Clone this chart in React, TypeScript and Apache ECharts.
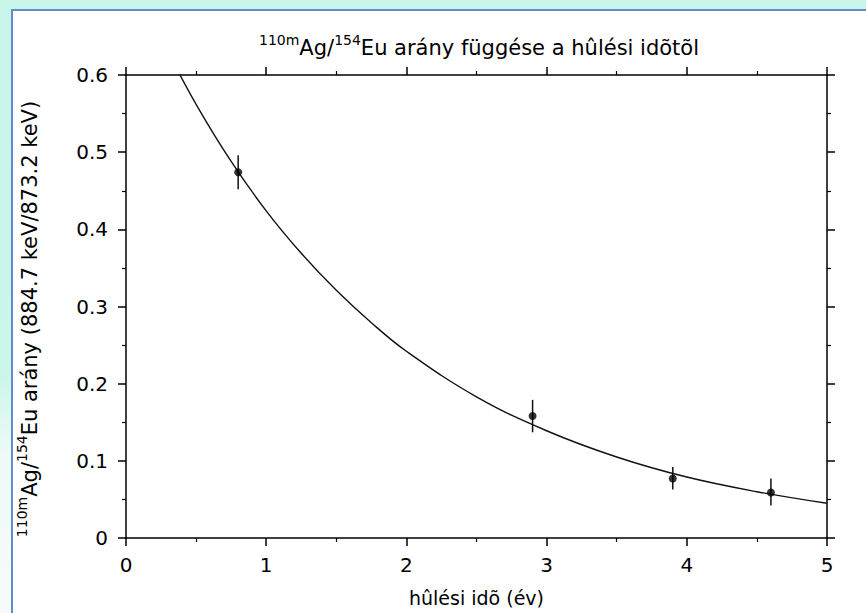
import React, { useEffect, useRef } from "react";
import * as echarts from "echarts";

// Measured points (cooling time in years, ratio) with error bar ends
const pointX = [0.8, 2.9, 3.9, 4.6];
const pointY = [0.474, 0.158, 0.077, 0.059];
const errLow = [0.452, 0.137, 0.063, 0.042];
const errHigh = [0.496, 0.179, 0.092, 0.077];

// Fitted curve
const curveX = [0.3, 0.5, 0.75, 1, 1.25, 1.5, 1.75, 2, 2.5, 3, 3.5, 4, 4.5, 5];
const curveY = [0.63, 0.562, 0.488, 0.424, 0.369, 0.321, 0.279, 0.242, 0.183, 0.139, 0.105, 0.079, 0.06, 0.045];

const xTicks = { min: 0, max: 5, interval: 1 };
const yTicks = { min: 0, max: 0.6, interval: 0.1 };

const FONT = "'DejaVu Sans', Verdana, sans-serif";

export default function App() {
  const ref = useRef<HTMLDivElement>(null);

  useEffect(() => {
    if (!ref.current) return;
    const chart = echarts.init(ref.current, undefined, { renderer: "svg" });

    const axisLine = { show: true, onZero: false, lineStyle: { color: "#000", width: 1.5 } };
    const axisTick = { show: true, inside: false, length: 8, lineStyle: { color: "#000", width: 1.5 } };
    const minorTick = { show: true, splitNumber: 2, length: 4, lineStyle: { color: "#000", width: 1.2 } };
    const labelStyle = { fontSize: 20, color: "#000", fontFamily: FONT, fontWeight: "normal" };

    const mkX = (pos: "bottom" | "top", labels: boolean) => ({
      type: "value",
      position: pos,
      ...xTicks,
      axisLine,
      axisTick,
      minorTick,
      splitLine: { show: false },
      axisLabel: { show: labels, margin: 17, ...labelStyle },
      ...(labels
        ? {
            name: "hûlési idõ (év)",
            nameLocation: "middle",
            nameGap: 50,
            nameTextStyle: { fontSize: 19, color: "#000", fontFamily: FONT, fontWeight: "normal" },
          }
        : {}),
    });
    const mkY = (pos: "left" | "right", labels: boolean) => ({
      type: "value",
      position: pos,
      ...yTicks,
      axisLine,
      axisTick,
      minorTick,
      splitLine: { show: false },
      axisLabel: {
        show: labels,
        margin: 18,
        ...labelStyle,
        formatter: (v: number) => (v === 0 ? "0" : v.toFixed(1)),
      },
    });

    const sup = { fontSize: 14, fontFamily: FONT, fontWeight: "normal", color: "#000", verticalAlign: "top", lineHeight: 14 };
    const main = { fontSize: 21, fontFamily: FONT, fontWeight: "normal", color: "#000", lineHeight: 30 };

    chart.setOption({
      animation: false,
      backgroundColor: "transparent",
      title: {
        text: "{sup|110m}{n|Ag/}{sup|154}{n|Eu arány függése a hûlési idõtõl}",
        left: 474,
        top: 28,
        textAlign: "center",
        textStyle: { fontWeight: "normal", fontFamily: FONT, rich: { sup, n: main } },
      },
      grid: { left: 126, right: 39, top: 75, bottom: 75, containLabel: false },
      xAxis: [mkX("bottom", true), mkX("top", false)],
      yAxis: [mkY("left", true), mkY("right", false)],
      graphic: [
        {
          type: "text",
          x: 30,
          y: 319,
          rotation: Math.PI / 2,
          style: {
            text: "{sup|110m}{n|Ag/}{sup|154}{n|Eu arány (884.7 keV/873.2 keV)}",
            rich: { sup, n: main },
            align: "center",
            verticalAlign: "middle",
            fill: "#000",
          },
        },
      ],
      series: [
        {
          type: "line",
          xAxisIndex: 0,
          yAxisIndex: 0,
          data: curveX.map((x, i) => [x, curveY[i]]),
          smooth: 0.4,
          showSymbol: false,
          clip: true,
          lineStyle: { color: "#111", width: 1.4 },
          silent: true,
        },
        {
          type: "custom",
          xAxisIndex: 0,
          yAxisIndex: 0,
          data: pointX.map((x, i) => [x, errLow[i], errHigh[i]]),
          renderItem: (params: any, api: any) => {
            const lo = api.coord([api.value(0), api.value(1)]);
            const hi = api.coord([api.value(0), api.value(2)]);
            return {
              type: "line",
              shape: { x1: lo[0], y1: lo[1], x2: hi[0], y2: hi[1] },
              style: { stroke: "#111", lineWidth: 1.5 },
            };
          },
          encode: { x: 0, y: [1, 2] },
          silent: true,
        },
        {
          type: "scatter",
          xAxisIndex: 0,
          yAxisIndex: 0,
          data: pointX.map((x, i) => [x, pointY[i]]),
          symbol: "circle",
          symbolSize: 8,
          itemStyle: { color: "#000" },
          z: 5,
        },
      ],
    });

    return () => chart.dispose();
  }, []);

  return (
    <div
      style={{
        position: "absolute",
        left: 0,
        top: 0,
        width: 866,
        height: 613,
        overflow: "hidden",
        background: "linear-gradient(to bottom, #c9f4e9 0%, #cdf6eb 62%, #eefaf7 74%, #f7fafb 100%)",
      }}
    >
      <div
        style={{
          position: "absolute",
          left: 11,
          top: 9,
          width: 900,
          height: 700,
          background: "#fff",
          borderLeft: "2px solid #5f8ccb",
          borderTop: "2px solid #5f8ccb",
        }}
      />
      <div ref={ref} style={{ position: "absolute", left: 0, top: 0, width: 866, height: 613 }} />
    </div>
  );
}
